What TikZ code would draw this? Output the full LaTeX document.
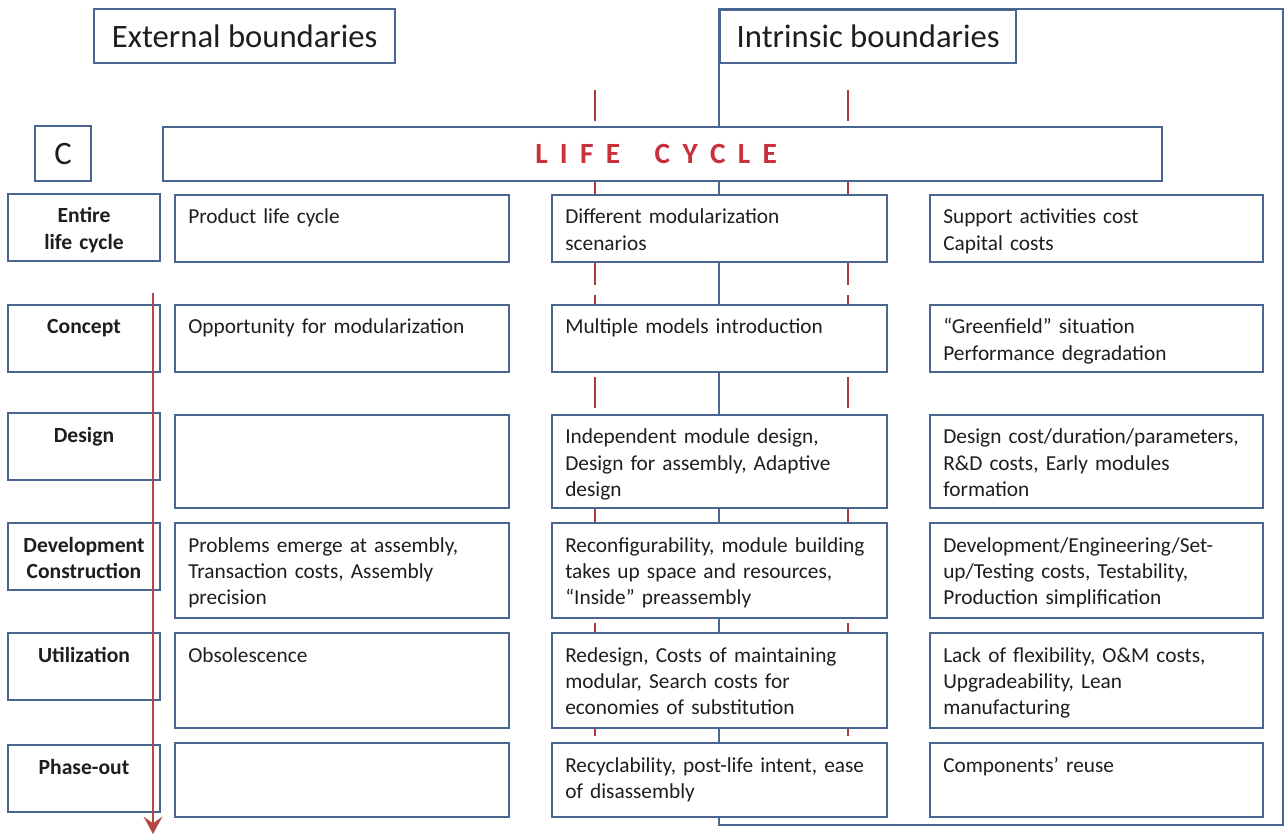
\documentclass[tikz,border=0pt]{standalone}
\usepackage{fontspec}
\setmainfont{Carlito}
\usetikzlibrary{arrows.meta}

\definecolor{boxblue}{RGB}{72,102,145}
\definecolor{guidered}{RGB}{172,58,62}
\definecolor{lcred}{RGB}{200,48,58}
\definecolor{arrowred}{RGB}{178,72,66}
\definecolor{txt}{RGB}{30,30,30}

% one content cell: name, left, top, width, height, text
\newcommand\cell[6]{%
  \node[cellbox, minimum width=#4*0.75pt, minimum height=#5*0.75pt] (#1) at (#2,#3) {};
  \node[celltext] (#1-t) at ([xshift=13*0.75pt, yshift=-29*0.75pt]#1.north west) {#6};}

% one stage label on the left: name, top, text
\newcommand\stage[3]{%
  \node[cellbox, minimum width=152*0.75pt, minimum height=67*0.75pt] (#1) at (8,#2) {};
  \node[stagetext] (#1-t) at ([yshift=-29*0.75pt]#1.north) {#3};}

\begin{document}
\begin{tikzpicture}[x=0.75pt,y=-0.75pt,
  cellbox/.style={draw=boxblue, line width=1.8pt, fill=white, rectangle,
    inner sep=0pt, outer sep=0pt, anchor=north west},
  celltext/.style={anchor=base west, inner sep=0pt, align=left, text width=250pt,
    text=txt, font=\fontsize{16}{19.8}\selectfont},
  stagetext/.style={anchor=base, inner sep=0pt, align=center, text width=110pt,
    text=txt, font=\bfseries\fontsize{16.2}{19.8}\selectfont},
  headbox/.style={draw=boxblue, line width=1.8pt, fill=white, rectangle,
    inner sep=0pt, anchor=north west, text=txt, font=\fontsize{24.5}{28}\selectfont},
  guide/.style={draw=guidered, line width=2pt, dash pattern=on 23.25pt off 7.5pt},
  frame/.style={draw=boxblue, line width=1.8pt},
]
\useasboundingbox (0,0) rectangle (1286,834);
\fill[white] (0,0) rectangle (1286,834);

% intrinsic boundary frame
\coordinate (fr-nw) at (719,9);
\coordinate (fr-se) at (1283,825);
\draw[frame] (fr-nw) rectangle (fr-se);

% red guide lines crossing the middle column
\coordinate (g1-top) at (595,90);
\coordinate (g1-bot) at (595,826);
\coordinate (g2-top) at (848,90);
\coordinate (g2-bot) at (848,826);
\draw[guide] (g1-top) -- (g1-bot);
\draw[guide] (g2-top) -- (g2-bot);

% header boxes
\node[headbox, minimum width=301*0.75pt, minimum height=54*0.75pt] (ext) at (93,8) {External boundaries};
\node[headbox, minimum width=296*0.75pt, minimum height=53*0.75pt] (intr) at (719,9) {Intrinsic boundaries};
\node[headbox, minimum width=56*0.75pt, minimum height=55*0.75pt] (cbox) at (34,125) {C};
\node[headbox, minimum width=999*0.75pt, minimum height=54*0.75pt,
  text=lcred, font=\bfseries\fontsize{22}{26}\selectfont] (lc) at (162,126)
  {\hspace*{-10pt}L\hspace{9.2pt}I\hspace{9.2pt}F\hspace{9.2pt}E\hspace{26pt}C\hspace{9.2pt}Y\hspace{9.2pt}C\hspace{9.2pt}L\hspace{9.2pt}E};

% stages
\stage{s1}{194}{Entire\\life cycle}
\stage{s2}{305}{Concept}
\stage{s3}{413}{Design}
\stage{s4}{523}{Development\\Construction}
\stage{s5}{633}{Utilization}
\stage{s6}{745}{Phase-out}

% external column
\cell{a1}{175}{195}{334}{67}{Product life cycle}
\cell{a2}{175}{305}{334}{67}{Opportunity for modularization}
\cell{a3}{175}{415}{334}{93}{}
\cell{a4}{175}{523}{334}{95}{Problems emerge at assembly,\\Transaction costs, Assembly\\precision}
\cell{a5}{175}{633}{334}{95}{Obsolescence}
\cell{a6}{175}{743}{334}{74}{}

% middle column
\cell{b1}{552}{195}{335}{67}{Different modularization\\scenarios}
\cell{b2}{552}{305}{335}{67}{Multiple models introduction}
\cell{b3}{552}{415}{335}{93}{Independent module design,\\Design for assembly, Adaptive\\design}
\cell{b4}{552}{523}{335}{95}{Reconfigurability, module building\\takes up space and resources,\\“Inside” preassembly}
\cell{b5}{552}{633}{335}{95}{Redesign, Costs of maintaining\\modular, Search costs for\\economies of substitution}
\cell{b6}{552}{743}{335}{74}{Recyclability, post-life intent, ease\\of disassembly}

% intrinsic column
\cell{c1}{930}{195}{333}{67}{Support activities cost\\Capital costs}
\cell{c2}{930}{305}{333}{67}{“Greenfield” situation\\Performance degradation}
\cell{c3}{930}{415}{333}{93}{Design cost/duration/parameters,\\R\&D costs, Early modules\\formation}
\cell{c4}{930}{523}{333}{95}{Development/Engineering/Set-\\up/Testing costs, Testability,\\Production simplification}
\cell{c5}{930}{633}{333}{95}{Lack of flexibility, O\&M costs,\\Upgradeability, Lean\\manufacturing}
\cell{c6}{930}{743}{333}{74}{Components’ reuse}

% time arrow along the stages
\coordinate (t-start) at (153,293);
\coordinate (t-end) at (153,834);
\draw[arrowred, line width=2pt, -{Stealth[length=13pt,width=14pt,inset=5pt]}] (t-start) -- (t-end);
\end{tikzpicture}
\end{document}
